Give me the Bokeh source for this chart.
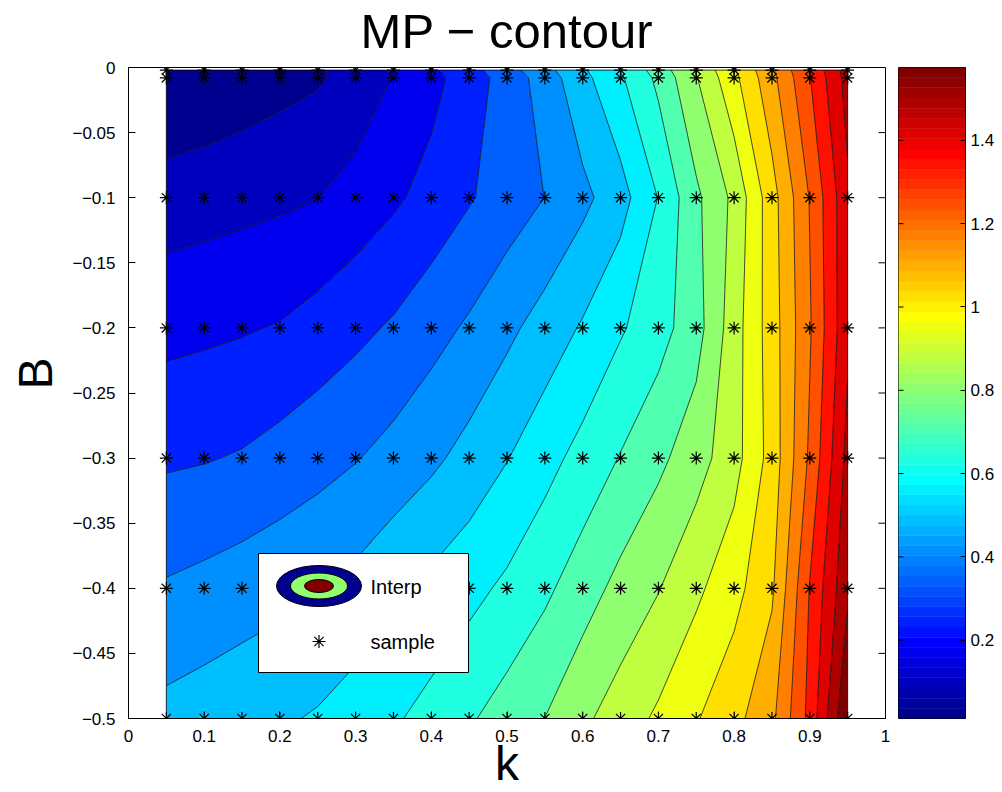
import math
import numpy as np
from bokeh.plotting import figure
from bokeh.layouts import row, column
from bokeh.models import FixedTicker, Label
from bokeh.embed import file_html
from bokeh.resources import INLINE

# ---- sample grid -------------------------------------------------------
k_vals = [0.05, 0.10, 0.15, 0.20, 0.25, 0.30, 0.35, 0.40, 0.45, 0.50,
          0.55, 0.60, 0.65, 0.70, 0.75, 0.80, 0.85, 0.90, 0.95]
B_vals = [-0.002, -0.008, -0.1, -0.2, -0.3, -0.4, -0.5]

# MP value at each k, one list per B row
mp_b_0002 = [0.012, 0.028, 0.045, 0.061, 0.078, 0.115, 0.171, 0.222, 0.283, 0.354,
             0.435, 0.522, 0.611, 0.715, 0.838, 0.972, 1.117, 1.285, 1.463]
mp_b_0008 = [0.013, 0.028, 0.045, 0.062, 0.078, 0.113, 0.164, 0.212, 0.273, 0.340,
             0.418, 0.511, 0.597, 0.699, 0.826, 0.960, 1.107, 1.274, 1.456]
mp_b_0100 = [0.122, 0.130, 0.139, 0.148, 0.159, 0.190, 0.223, 0.261, 0.303, 0.344,
             0.385, 0.439, 0.504, 0.610, 0.741, 0.848, 1.024, 1.207, 1.411]
mp_b_0200 = [0.213, 0.221, 0.229, 0.240, 0.265, 0.291, 0.319, 0.357, 0.395, 0.441,
             0.490, 0.541, 0.599, 0.652, 0.726, 0.871, 1.017, 1.195, 1.411]
mp_b_0300 = [0.299, 0.305, 0.316, 0.337, 0.358, 0.380, 0.410, 0.443, 0.484, 0.530,
             0.581, 0.633, 0.686, 0.739, 0.799, 0.876, 1.009, 1.216, 1.449]
mp_b_0400 = [0.392, 0.406, 0.422, 0.437, 0.453, 0.481, 0.518, 0.552, 0.585, 0.622,
             0.667, 0.722, 0.779, 0.827, 0.890, 0.954, 1.042, 1.282, 1.486]
mp_b_0500 = [0.481, 0.495, 0.509, 0.523, 0.541, 0.569, 0.598, 0.633, 0.673, 0.715,
             0.757, 0.816, 0.867, 0.918, 0.974, 1.031, 1.111, 1.300, 1.575]

mp_rows = [mp_b_0002, mp_b_0008, mp_b_0100, mp_b_0200, mp_b_0300, mp_b_0400, mp_b_0500]

# ---- axis ticks ----------------------------------------------------------
k_ticks = [0.0, 0.1, 0.2, 0.3, 0.4, 0.5, 0.6, 0.7, 0.8, 0.9, 1.0]
k_tick_labels = ["0", "0.1", "0.2", "0.3", "0.4", "0.5", "0.6", "0.7", "0.8", "0.9", "1"]
b_ticks = [0.0, -0.05, -0.1, -0.15, -0.2, -0.25, -0.3, -0.35, -0.4, -0.45, -0.5]
b_tick_labels = ["0", "\u22120.05", "\u22120.1", "\u22120.15", "\u22120.2", "\u22120.25",
                 "\u22120.3", "\u22120.35", "\u22120.4", "\u22120.45", "\u22120.5"]
cbar_ticks = [0.2, 0.4, 0.6, 0.8, 1.0, 1.2, 1.4]
cbar_tick_labels = ["0.2", "0.4", "0.6", "0.8", "1", "1.2", "1.4"]

FONT = "Liberation Sans"
N_LEVELS = 20


def jet(m=64):
    """MATLAB-style jet colormap with m entries."""
    n = int(math.ceil(m / 4))
    u = np.concatenate([np.arange(1, n + 1) / n, np.ones(n - 1), np.arange(n, 0, -1) / n])
    g = int(math.ceil(n / 2)) - (1 if m % 4 == 1 else 0) + np.arange(1, len(u) + 1)
    r = g + n
    b = g - n
    cmap = np.zeros((m, 3))
    for idx, col in ((r, 0), (g, 1), (b, 2)):
        ok = (idx >= 1) & (idx <= m)
        cmap[idx[ok] - 1, col] = u[ok]
    return ["#%02x%02x%02x" % tuple(int(round(c * 255)) for c in rgb) for rgb in cmap]


jet64 = jet(64)

# ---- field on the sample grid (ascending B for contouring) --------------
Z = np.array(mp_rows[::-1])
B_asc = np.array(B_vals[::-1])
K = np.array(k_vals)
zmin, zmax = float(Z.min()), float(Z.max())

levels = np.linspace(zmin, zmax, N_LEVELS + 2)
levels[0] -= 1e-9
levels[-1] += 1e-9
band_colors = [jet64[int(round(i * 63 / N_LEVELS))] for i in range(N_LEVELS + 1)]

# ---- page geometry (pixels) --------------------------------------------
PAGE_W = 1002
HEAD = 58           # height of the title strip
PAD_TOP = 9         # room above the frame for the top tick label
PAD_BOTTOM = 74     # room below the frame for tick labels and "k"
TOP = HEAD + PAD_TOP
SIDE = 60           # strip holding the rotated "B"
LEFT = 128          # page x of the frame's left edge
FW, FH = 757, 651   # main frame size
BODY_H = PAD_TOP + FH + PAD_BOTTOM
X0, X1 = 0.0, 1.0
Y0, Y1 = -0.5, 0.0
B_LABEL_Y = 403     # anchor of the rotated "B" (page y); glyph centres near y = 376


def px_x(px):
    return X0 + (px - LEFT) / FW * (X1 - X0)


def px_y(py):
    return Y1 - (py - TOP) / FH * (Y1 - Y0)


def bare_strip(w, h):
    f = figure(width=w, height=h, x_range=(0, w), y_range=(0, h),
               x_axis_location=None, y_axis_location=None, min_border=0,
               toolbar_location=None, output_backend="svg", title=None)
    f.outline_line_color = None
    f.grid.visible = False
    f.background_fill_color = "white"
    f.border_fill_color = "white"
    return f


# ---- title strip ----------------------------------------------------------
head = bare_strip(PAGE_W, HEAD)
head.add_layout(Label(x=LEFT + FW / 2, y=HEAD - 30, text="MP \u2212 contour", text_align="center",
                      text_baseline="middle", text_font=FONT, text_font_size="49px",
                      text_color="black"))

# ---- y label strip --------------------------------------------------------
side = bare_strip(SIDE, BODY_H)
side.add_layout(Label(x=35, y=BODY_H - (B_LABEL_Y - HEAD), text="B", text_align="center",
                      text_baseline="middle", angle=math.pi / 2, text_font=FONT,
                      text_font_size="48px", text_color="black"))

# ---- main axes --------------------------------------------------------------
p = figure(frame_width=FW, frame_height=FH, x_range=(X0, X1), y_range=(Y0, Y1),
           min_border_left=LEFT - SIDE, min_border_right=8, min_border_top=PAD_TOP,
           min_border_bottom=PAD_BOTTOM, toolbar_location=None, output_backend="svg",
           title=None)
p.background_fill_color = "white"
p.border_fill_color = "white"
p.outline_line_color = "black"
p.outline_line_width = 1
p.grid.visible = False

p.contour(K, B_asc, Z, levels, fill_color=band_colors, line_color="black", line_width=0.7)

# outline of the interpolated area
p.quad(left=[K.min()], right=[K.max()], bottom=[B_asc.min()], top=[B_asc.max()],
       fill_color=None, line_color="black", line_width=0.8)

# sample points
kk, bb = np.meshgrid(k_vals, B_vals)
p.scatter(kk.ravel(), bb.ravel(), marker="asterisk", size=13,
          line_color="black", line_width=1.2)

# axes
for ax, ticks, labels in ((p.xaxis, k_ticks, k_tick_labels), (p.yaxis, b_ticks, b_tick_labels)):
    ax.ticker = FixedTicker(ticks=ticks)
    ax.major_label_overrides = dict(zip(ticks, labels))
    ax.major_tick_in = 7
    ax.major_tick_out = 0
    ax.minor_tick_line_color = None
    ax.axis_line_color = "black"
    ax.major_tick_line_color = "black"
    ax.major_label_text_font = FONT
    ax.major_label_text_font_size = "17px"
    ax.major_label_text_color = "black"
p.xaxis.major_label_standoff = 11
p.yaxis.major_label_standoff = 13
p.xaxis.axis_label = "k"
p.xaxis.axis_label_text_font = FONT
p.xaxis.axis_label_text_font_size = "48px"
p.xaxis.axis_label_text_font_style = "normal"
p.xaxis.axis_label_text_color = "black"
p.xaxis.axis_label_standoff = -8

# mirrored ticks on top and right edges
tick_dy = 7 / FH * (Y1 - Y0)
tick_dx = 7 / FW * (X1 - X0)
p.segment(x0=k_ticks, y0=[Y1] * len(k_ticks), x1=k_ticks, y1=[Y1 - tick_dy] * len(k_ticks),
          line_color="black", line_width=1)
p.segment(x0=[X1] * len(b_ticks), y0=b_ticks, x1=[X1 - tick_dx] * len(b_ticks), y1=b_ticks,
          line_color="black", line_width=1)

# legend box
p.quad(left=[px_x(258)], right=[px_x(468)], top=[px_y(553)], bottom=[px_y(672)],
       fill_color="white", line_color="black", line_width=1)
ecx, ecy = px_x(318.5), px_y(585.5)
p.ellipse(x=[ecx] * 3, y=[ecy] * 3,
          width=[85 / FW, 57 / FW, 29 / FW],
          height=[41 / FH * 0.5, 26 / FH * 0.5, 13 / FH * 0.5],
          fill_color=[jet64[0], jet64[32], jet64[63]], line_color="black", line_width=1)
p.scatter([px_x(318.5)], [px_y(641)], marker="asterisk", size=13,
          line_color="black", line_width=1.2)
p.add_layout(Label(x=px_x(370), y=px_y(586), text="Interp", text_baseline="middle",
                   text_font=FONT, text_font_size="20px", text_color="black"))
p.add_layout(Label(x=px_x(370), y=px_y(641), text="sample", text_baseline="middle",
                   text_font=FONT, text_font_size="20px", text_color="black"))

# ---- colour bar -----------------------------------------------------------
cb = figure(frame_width=67, frame_height=FH, x_range=(0, 1), y_range=(zmin, zmax),
            min_border_left=5, min_border_right=37, min_border_top=PAD_TOP,
            min_border_bottom=PAD_BOTTOM, x_axis_location=None, y_axis_location="right",
            toolbar_location=None, output_backend="svg", title=None)
cb.background_fill_color = "white"
cb.border_fill_color = "white"
cb.outline_line_color = "black"
cb.grid.visible = False
edges = np.linspace(zmin, zmax, len(jet64) + 1)
cb.quad(left=0, right=1, bottom=edges[:-1], top=edges[1:], fill_color=jet64,
        line_color=jet64, line_width=0.5)
ax = cb.yaxis[0]
ax.ticker = FixedTicker(ticks=cbar_ticks)
ax.major_label_overrides = dict(zip(cbar_ticks, cbar_tick_labels))
ax.major_tick_in = 5
ax.major_tick_out = 0
ax.minor_tick_line_color = None
ax.axis_line_color = "black"
ax.major_tick_line_color = "black"
ax.major_label_standoff = 5
ax.major_label_text_font = FONT
ax.major_label_text_font_size = "17px"
ax.major_label_text_color = "black"
cb.segment(x0=[0] * len(cbar_ticks), y0=cbar_ticks, x1=[5 / 67] * len(cbar_ticks),
           y1=cbar_ticks, line_color="black", line_width=1)

layout = column(head, row(side, p, cb))
open("out.html", "w").write(file_html(layout, INLINE))
